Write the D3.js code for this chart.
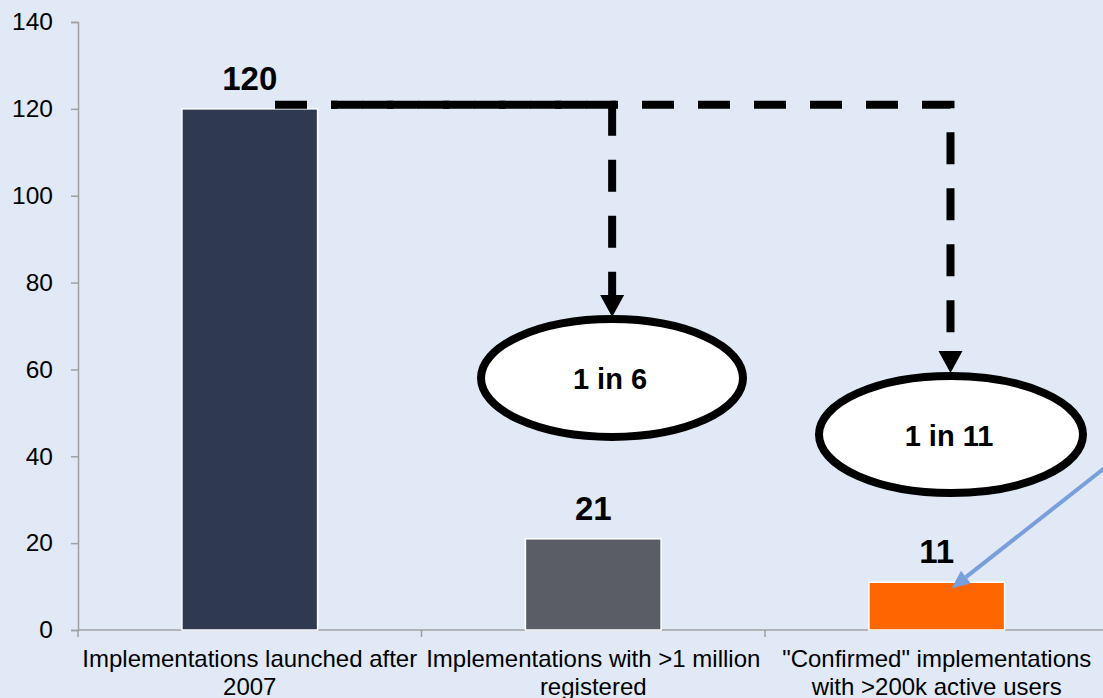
<!DOCTYPE html>
<html>
<head>
<meta charset="utf-8">
<script src="https://cdn.jsdelivr.net/npm/d3@7"></script>
<style>
  html, body { margin: 0; padding: 0; background: #e1e9f6; }
  svg { display: block; font-family: Arial, "Liberation Sans", sans-serif; }
</style>
</head>
<body>
<svg id="chart" width="1103" height="698"></svg>
<script>
// ---- data ----
const categories = [
  ["Implementations launched after", "2007"],
  ["Implementations with >1 million", "registered"],
  ["\"Confirmed\" implementations", "with >200k active users"]
];
const values = [120, 21, 11];
const barColors = ["#2f3950", "#5a5d66", "#ff6600"];
const yTicks = [0, 20, 40, 60, 80, 100, 120, 140];
const ratioLabels = ["1 in 6", "1 in 11"];

// ---- layout ----
const W = 1103, H = 698;
const svg = d3.select("#chart");
svg.append("rect").attr("width", W).attr("height", H).attr("fill", "#e1e9f6");

const x0 = 78, step = 343.5;
const keys = categories.map((c, i) => "c" + i);
const x = d3.scaleBand().domain(keys).range([x0, x0 + step * keys.length]).padding(0);
const y = d3.scaleLinear().domain([0, 140]).range([630, 22]);
const barW = x.bandwidth() * 0.395;

// axes
const yAxis = d3.axisLeft(y).tickValues(yTicks).tickSize(7).tickSizeOuter(7).tickPadding(18);
const gy = svg.append("g").attr("transform", `translate(${x0},0)`).call(yAxis);
gy.selectAll("path, line").attr("stroke", "#a0a0a0").attr("stroke-width", 1.5);
gy.selectAll("text").attr("font-size", 24.5).attr("fill", "#000")
  .attr("font-family", "Arial, 'Liberation Sans', sans-serif");

const gx = svg.append("g").attr("transform", `translate(0,${y(0)})`);
gx.append("line").attr("x1", x0).attr("x2", W + 10).attr("y1", 0).attr("y2", 0)
  .attr("stroke", "#a0a0a0").attr("stroke-width", 1.5);
keys.forEach(k => {
  gx.append("line").attr("x1", x(k)).attr("x2", x(k)).attr("y1", 0).attr("y2", 7)
    .attr("stroke", "#a0a0a0").attr("stroke-width", 1.5);
});
gx.append("line").attr("x1", x0 + step * 3).attr("x2", x0 + step * 3).attr("y1", 0).attr("y2", 7)
  .attr("stroke", "#a0a0a0").attr("stroke-width", 1.5);
categories.forEach((lines, i) => {
  const t = gx.append("text").attr("text-anchor", "middle").attr("font-size", 24).attr("fill", "#000");
  lines.forEach((ln, j) => {
    t.append("tspan").attr("x", x(keys[i]) + x.bandwidth() / 2).attr("y", 37 + j * 27.5).text(ln);
  });
});

// bars
svg.selectAll("rect.bar").data(values).join("rect").attr("class", "bar")
  .attr("x", (d, i) => x(keys[i]) + (x.bandwidth() - barW) / 2)
  .attr("y", d => y(d))
  .attr("width", barW)
  .attr("height", d => y(0) - y(d))
  .attr("fill", (d, i) => barColors[i])
  .attr("stroke", "#ffffff").attr("stroke-width", 1.5);

// value labels
svg.selectAll("text.val").data(values).join("text").attr("class", "val")
  .attr("x", (d, i) => x(keys[i]) + x.bandwidth() / 2)
  .attr("y", d => y(d) - 19)
  .attr("text-anchor", "middle").attr("font-size", 33).attr("font-weight", "bold")
  .attr("fill", "#000").text(d => d);

// dashed connectors
const lineY = y(values[0]) - 4;
const ax1 = x(keys[1]) + step * 0.555, ax2 = x(keys[2]) + step * 0.54;
const tip1 = 317, tip2 = 373, head = 22;
svg.append("path")
  .attr("d", `M275,${lineY}H${ax1}V${tip1 - head}`)
  .attr("fill", "none").attr("stroke", "#000").attr("stroke-width", 8)
  .attr("stroke-dasharray", "32,24");
svg.append("path")
  .attr("d", `M331,${lineY}H${ax2}V${tip2 - head}`)
  .attr("fill", "none").attr("stroke", "#000").attr("stroke-width", 8)
  .attr("stroke-dasharray", "32,24").attr("stroke-dashoffset", 25);
[[ax1, tip1], [ax2, tip2]].forEach(([ax, tip]) => {
  svg.append("path").attr("d", `M${ax - 12},${tip - head}L${ax + 12},${tip - head}L${ax},${tip}Z`)
    .attr("fill", "#000");
});

// ellipses
const ells = [
  { cx: 612, cy: 378, rx: 131, ry: 59 },
  { cx: 951, cy: 434.5, rx: 132, ry: 58.5 }
];
ells.forEach((e, i) => {
  svg.append("ellipse").attr("cx", e.cx).attr("cy", e.cy).attr("rx", e.rx).attr("ry", e.ry)
    .attr("fill", "#fff").attr("stroke", "#000").attr("stroke-width", 8);
  svg.append("text").attr("x", e.cx - 2).attr("y", e.cy + 11)
    .attr("text-anchor", "middle").attr("font-size", 29).attr("font-weight", "bold")
    .attr("fill", "#000").text(ratioLabels[i]);
});

// blue pointer arrow
const tipX = x(keys[2]) + x.bandwidth() / 2 + 15, tipY = y(values[2]) + 6;
const sx = 1125, sy = 452;
const ang = Math.atan2(tipY - sy, tipX - sx);
const hl = 18, hw = 8;
const bx = tipX - hl * Math.cos(ang), by = tipY - hl * Math.sin(ang);
svg.append("line").attr("x1", sx).attr("y1", sy).attr("x2", bx).attr("y2", by)
  .attr("stroke", "#789fdc").attr("stroke-width", 4);
svg.append("path")
  .attr("d", `M${tipX},${tipY}L${bx + hw * Math.sin(ang)},${by - hw * Math.cos(ang)}L${bx - hw * Math.sin(ang)},${by + hw * Math.cos(ang)}Z`)
  .attr("fill", "#789fdc");
</script>
</body>
</html>
